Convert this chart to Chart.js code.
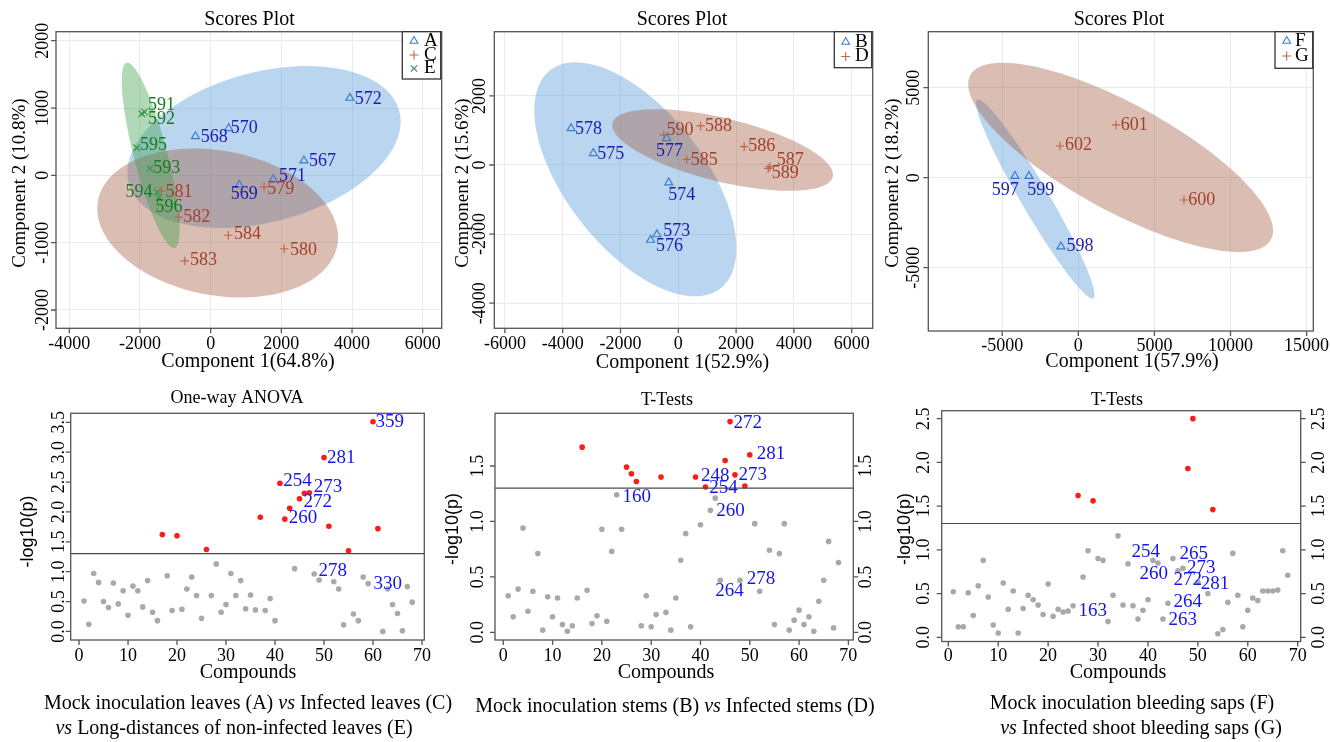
<!DOCTYPE html>
<html>
<head>
<meta charset="utf-8">
<script src="https://cdn.jsdelivr.net/npm/chart.js@4.4.1/dist/chart.umd.min.js"></script>
<style>
  body { margin: 0; background: #fff; width: 1330px; height: 742px; position: relative; overflow: hidden; }
  canvas { position: absolute; left: 0; top: 0; }
  .cap { position: absolute; width: 600px; text-align: center; font: 20px/24px 'Liberation Serif', 'Times New Roman', serif; color: #000; white-space: nowrap; }
</style>
</head>
<body>
<canvas id="p1" width="1330" height="742"></canvas>
<canvas id="p2" width="1330" height="742"></canvas>
<canvas id="p3" width="1330" height="742"></canvas>
<canvas id="p4" width="1330" height="742"></canvas>
<canvas id="p5" width="1330" height="742"></canvas>
<canvas id="p6" width="1330" height="742"></canvas>
<div class="cap" style="left:-52px;top:690px">Mock inoculation leaves (A) <i>vs</i> Infected leaves (C)</div>
<div class="cap" style="left:-66px;top:715px"><i>vs</i> Long-distances of non-infected leaves (E)</div>
<div class="cap" style="left:375px;top:693px">Mock inoculation stems (B) <i>vs</i> Infected stems (D)</div>
<div class="cap" style="left:832px;top:690px">Mock inoculation bleeding saps (F)</div>
<div class="cap" style="left:841px;top:715px"><i>vs</i> Infected shoot bleeding saps (G)</div>
<script>
// ---------- data: scores plots (component 1, component 2) ----------
const leafA_ids = ['572', '570', '568', '567', '571', '569'];
const leafA_x = [3940, 510, -430, 2640, 1770, 810];
const leafA_y = [1150, 700, 580, 220, -60, -140];
const leafA_lab = [[4075, 1124], [566, 693], [-283, 569], [2783, 213], [1934, -15], [566, -282]];

const leafC_ids = ['579', '581', '582', '584', '580', '583'];
const leafC_x = [1510, -1400, -900, 500, 2080, -730];
const leafC_y = [-170, -230, -620, -890, -1090, -1270];
const leafC_lab = [[1604, -208], [-1274, -248], [-774, -629], [660, -881], [2245, -1114], [-585, -1262]];

const leafE_ids = ['591', '592', '595', '593', '594', '596'];
const leafE_x = [-1870, -1950, -2090, -1720, -1510, -1460];
const leafE_y = [940, 915, 410, 100, -250, -330];
const leafE_lab = [[-1775, 1040], [-1775, 828], [-2000, 446], [-1623, 99], [-2406, -257], [-1557, -475]];

const stemB_ids = ['578', '575', '577', '574', '573', '576'];
const stemB_x = [-3710, -2940, -400, -330, -740, -960];
const stemB_y = [1060, 340, 770, -510, -2010, -2170];
const stemB_lab = [[-3576, 1033], [-2803, 319], [-773, 405], [-346, -869], [-519, -1931], [-773, -2346]];

const stemD_ids = ['590', '588', '586', '585', '587', '589', ''];
const stemD_x = [-500, 770, 2280, 290, 3170, 3110, -290];
const stemD_y = [870, 1130, 530, 160, -50, -100, -6080];
const stemD_lab = [[-404, 1014], [923, 1129], [2422, 550], [427, 145], [3403, 125], [3230, -241], null];

const sapF_ids = ['597', '599', '598'];
const sapF_x = [-4160, -3240, -1140];
const sapF_y = [90, 90, -3830];
const sapF_lab = [[-5694, -685], [-3351, -685], [-767, -3833]];

const sapG_ids = ['601', '602', '600'];
const sapG_x = [2480, -1200, 6940];
const sapG_y = [2930, 1760, -1240];
const sapG_lab = [[2781, 2926], [-876, 1778], [7227, -1241]];

// confidence ellipses: centre and two semi-axis vectors, in data units
const ellLeafA = { c: [1509, 421], a: [3827, 538], b: [549, -1076] };
const ellLeafC = { c: [198, -708], a: [3402, -156], b: [-182, 1095] };
const ellLeafE = { c: [-1698, 297], a: [679, -1376], b: [457, 62] };
const ellStemB = { c: [-1488, -415], a: [2947, -3156], b: [1881, 1230] };
const ellStemD = { c: [1534, 434], a: [3810, -777], b: [260, 891] };
const ellSapF = { c: [-2825, -1185], a: [3811, -5509], b: [795, 393] };
const ellSapG = { c: [2781, 1130], a: [9875, -4570], b: [1682, 2600] };

// ---------- data: -log10(p) per compound (index 1..68) ----------
const anovaLeaves = [0.51, 0.12, 0.97, 0.82, 0.50, 0.40, 0.81, 0.46, 0.68, 0.27,
  0.76, 0.68, 0.41, 0.85, 0.32, 0.18, 1.62, 0.93, 0.35, 1.60,
  0.37, 0.71, 0.91, 0.60, 0.22, 1.37, 0.60, 1.13, 0.32, 0.45,
  0.97, 0.60, 0.85, 0.38, 0.61, 0.36, 1.91, 0.35, 0.55, 0.18,
  2.48, 1.88, 2.06, 1.05, 2.22, 2.31, 2.32, 0.96, 0.86, 2.91,
  1.76, 0.83, 0.71, 0.11, 1.35, 0.29, 0.18, 0.91, 0.80, 3.51,
  1.72, 0.00, 0.71, 0.45, 0.30, 0.01, 0.75, 0.49];
const ttestStems = [0.33, 0.14, 0.39, 0.94, 0.19, 0.37, 0.71, 0.02, 0.32, 0.14,
  0.31, 0.07, 0.01, 0.06, 0.31, 1.67, 0.38, 0.08, 0.15, 0.93,
  0.10, 0.73, 1.24, 0.93, 1.49, 1.43, 1.36, 0.06, 0.33, 0.05,
  0.16, 1.40, 0.18, 0.02, 0.31, 0.65, 0.89, 0.05, 1.40, 0.97,
  1.31, 1.10, 1.21, 0.47, 1.55, 1.90, 1.42, 0.47, 1.32, 1.60,
  0.98, 0.37, null, 0.74, 0.07, 0.71, 0.98, 0.02, 0.11, 0.20,
  0.07, 0.14, 0.01, 0.28, 0.47, 0.82, 0.04, 0.63];
const ttestSaps = [0.52, 0.12, 0.12, 0.51, 0.25, 0.59, 0.88, 0.46, 0.14, 0.05,
  0.62, 0.32, 0.53, 0.05, 0.33, 0.48, 0.43, 0.37, 0.26, 0.61,
  0.24, 0.32, 0.29, 0.30, 0.36, 1.62, 0.69, 0.99, 1.56, 0.90,
  0.88, 0.18, 0.48, 1.16, 0.37, 0.84, 0.36, 0.21, 0.31, 0.43,
  0.88, 0.85, 0.21, 0.39, 0.90, 0.76, 0.79, 1.93, 2.50, 0.63,
  null, 0.50, 1.46, 0.04, 0.09, 0.40, 0.96, 0.48, 0.12, 0.31,
  0.45, 0.42, 0.53, 0.53, 0.53, 0.54, 0.99, 0.71];
const pThreshold = 1.301; // -log10(0.05)

const anovaLabText = ['359', '281', '254', '273', '272', '260', '278', '330'];
const anovaLabPos = [[60.5, 3.50], [50.6, 2.91], [41.7, 2.51], [47.9, 2.41], [45.8, 2.17], [42.8, 1.90], [48.9, 1.01], [60.1, 0.80]];
const stemLabText = ['272', '281', '248', '273', '254', '160', '260', '278', '264'];
const stemLabPos = [[46.7, 1.89], [51.4, 1.61], [40.1, 1.41], [47.7, 1.42], [41.8, 1.30], [24.2, 1.22], [43.2, 1.09], [49.4, 0.48], [43.0, 0.37]];
const sapLabText = ['254', '265', '273', '260', '272', '281', '264', '263', '163'];
const sapLabPos = [[36.7, 0.97], [46.3, 0.95], [47.8, 0.79], [38.3, 0.72], [45.1, 0.66], [50.6, 0.61], [45.1, 0.40], [44.1, 0.20], [26.1, 0.30]];

// ---------- tick labels ----------
const ticksP1x = [-4000, -2000, 0, 2000, 4000, 6000];
const ticksP1y = [-2000, -1000, 0, 1000, 2000];
const ticksP2x = [-6000, -4000, -2000, 0, 2000, 4000, 6000];
const ticksP2y = [-4000, -2000, 0, 2000];
const ticksP3x = [-5000, 0, 5000, 10000, 15000];
const ticksP3y = [-5000, 0, 5000];
const ticksCompounds = [0, 10, 20, 30, 40, 50, 60, 70];
const ticksAnova = [0, 0.5, 1, 1.5, 2, 2.5, 3, 3.5];
const ticksStems = [0, 0.5, 1, 1.5];
const ticksSaps = [0, 0.5, 1, 1.5, 2, 2.5];

// ---------- styles ----------
const W = 1330, H = 742;
const serif = "'Liberation Serif','Times New Roman',serif";
const sans = "'Liberation Sans',Arial,sans-serif";
const blueMark = '#3b7fd0', blueText = '#1c1cb0', blueFill = 'rgba(80,150,215,0.40)';
const redMark = '#c0654a', redText = '#a3402a', redFill = 'rgba(160,85,55,0.38)';
const greenMark = '#2f9a45', greenText = '#1a7a22', greenFill = 'rgba(60,160,75,0.40)';

const pts = (xs, ys) => xs.map((x, i) => ({ x: x, y: ys[i] }));
const idxPts = (ys, keep) => ys.map((y, i) => ({ x: i + 1, y: y })).filter(p => p.y !== null && keep(p.y));

function rotText(ctx, text, x, y) {
  ctx.save();
  ctx.translate(x, y);
  ctx.rotate(-Math.PI / 2);
  ctx.fillText(text, 0, 0);
  ctx.restore();
}

function makeDecor(cfg) {
  return {
    id: 'decor',
    beforeDatasetsDraw(chart) {
      const { ctx, chartArea: a, scales: { x, y } } = chart;
      if (!cfg.ellipses) return;
      ctx.save();
      ctx.beginPath();
      ctx.rect(a.left, a.top, a.right - a.left, a.bottom - a.top);
      ctx.clip();
      cfg.ellipses.forEach(e => {
        ctx.beginPath();
        for (let i = 0; i <= 120; i++) {
          const t = i / 120 * Math.PI * 2;
          const px = x.getPixelForValue(e.c[0] + e.a[0] * Math.cos(t) + e.b[0] * Math.sin(t));
          const py = y.getPixelForValue(e.c[1] + e.a[1] * Math.cos(t) + e.b[1] * Math.sin(t));
          if (i === 0) ctx.moveTo(px, py); else ctx.lineTo(px, py);
        }
        ctx.closePath();
        ctx.fillStyle = e.fill;
        ctx.fill();
      });
      ctx.restore();
    },
    afterDraw(chart) {
      const { ctx, chartArea: a, scales: { x, y } } = chart;
      ctx.save();

      if (cfg.threshold !== undefined) {
        const py = y.getPixelForValue(cfg.threshold);
        ctx.strokeStyle = '#4a4a4a';
        ctx.lineWidth = 1.2;
        ctx.beginPath();
        ctx.moveTo(a.left, py);
        ctx.lineTo(a.right, py);
        ctx.stroke();
      }

      // point labels
      ctx.textAlign = 'left';
      ctx.textBaseline = 'middle';
      cfg.labels.forEach(g => {
        ctx.fillStyle = g.color;
        ctx.font = g.size + 'px ' + serif;
        g.text.forEach((t, i) => {
          if (!t || !g.pos[i]) return;
          ctx.fillText(t, x.getPixelForValue(g.pos[i][0]), y.getPixelForValue(g.pos[i][1]));
        });
      });

      // box and tick marks
      ctx.strokeStyle = '#555';
      ctx.lineWidth = 1.3;
      ctx.strokeRect(a.left, a.top, a.right - a.left, a.bottom - a.top);
      ctx.beginPath();
      cfg.xTicks.forEach(v => {
        const px = x.getPixelForValue(v);
        ctx.moveTo(px, a.bottom);
        ctx.lineTo(px, a.bottom + 5);
      });
      cfg.yTicks.forEach(v => {
        const py = y.getPixelForValue(v);
        ctx.moveTo(a.left, py);
        ctx.lineTo(a.left - 5, py);
        if (cfg.rightLabelX) {
          ctx.moveTo(a.right, py);
          ctx.lineTo(a.right + 5, py);
        }
      });
      ctx.stroke();

      // tick labels
      ctx.fillStyle = '#000';
      ctx.font = '18px ' + serif;
      ctx.textAlign = 'center';
      ctx.textBaseline = 'middle';
      const fmt = v => cfg.decimals ? v.toFixed(cfg.decimals) : String(v);
      cfg.xTicks.forEach(v => ctx.fillText(fmt(v).replace('.0', ''), x.getPixelForValue(v), cfg.xLabelY));
      cfg.yTicks.forEach(v => {
        rotText(ctx, fmt(v), cfg.yLabelX, y.getPixelForValue(v));
        if (cfg.rightLabelX) rotText(ctx, fmt(v), cfg.rightLabelX, y.getPixelForValue(v));
      });

      // titles
      cfg.texts.forEach(t => {
        ctx.font = t.font;
        if (t.rot) rotText(ctx, t.text, t.x, t.y);
        else ctx.fillText(t.text, t.x, t.y);
      });

      // legend
      if (cfg.legend) {
        const L = cfg.legend;
        ctx.fillStyle = '#fff';
        ctx.fillRect(L.box[0], L.box[1], L.box[2] - L.box[0], L.box[3] - L.box[1]);
        ctx.strokeStyle = '#333';
        ctx.lineWidth = 1.3;
        ctx.strokeRect(L.box[0], L.box[1], L.box[2] - L.box[0], L.box[3] - L.box[1]);
        L.items.forEach(it => {
          ctx.strokeStyle = it.color;
          ctx.fillStyle = 'rgba(0,0,0,0)';
          ctx.lineWidth = 1.1;
          Chart.helpers.drawPoint(ctx, { pointStyle: it.style, radius: 4.5, borderWidth: 1.1, rotation: 0 }, L.symX, it.y);
          ctx.fillStyle = '#000';
          ctx.font = '19px ' + serif;
          ctx.textAlign = 'left';
          ctx.fillText(it.label, L.textX, it.y);
        });
      }
      ctx.restore();
    }
  };
}

function scaleOpts(min, max, ticks, grid) {
  return {
    type: 'linear', min: min, max: max,
    ticks: { display: false },
    grid: { display: grid, color: '#ebebeb', lineWidth: 1, drawTicks: false },
    border: { display: false },
    afterBuildTicks: axis => { axis.ticks = ticks.map(v => ({ value: v })); }
  };
}

function makeChart(id, cfg, datasets) {
  return new Chart(document.getElementById(id), {
    type: 'scatter',
    data: { datasets: datasets },
    options: {
      responsive: false,
      animation: false,
      events: [],
      layout: { autoPadding: false, padding: { left: cfg.area[0], top: cfg.area[1], right: W - cfg.area[2], bottom: H - cfg.area[3] } },
      plugins: { legend: { display: false }, tooltip: { enabled: false } },
      scales: {
        x: scaleOpts(cfg.xRange[0], cfg.xRange[1], cfg.xTicks, cfg.grid),
        y: scaleOpts(cfg.yRange[0], cfg.yRange[1], cfg.yTicks, cfg.grid)
      }
    },
    plugins: [makeDecor(cfg)]
  });
}

function scoreSet(xs, ys, style, color, r) {
  return { data: pts(xs, ys), pointStyle: style, pointRadius: r, borderColor: color,
    backgroundColor: 'rgba(0,0,0,0)', borderWidth: 1.2, clip: false };
}

function dotSets(ys) {
  return [
    { data: idxPts(ys, v => v <= pThreshold), pointRadius: 2.8, backgroundColor: '#a9a9a9', borderWidth: 0 },
    { data: idxPts(ys, v => v > pThreshold), pointRadius: 2.8, backgroundColor: '#ff1a1a', borderWidth: 0 }
  ];
}

const topTitle = '20px ' + serif, axisFont = '20px ' + serif, yAxisFont = '19px ' + serif;

// ---------- panel 1: leaves A / C / E ----------
makeChart('p1', {
  area: [56, 31.7, 441.7, 328.3], xRange: [-4376, 6538], yRange: [-2272, 2134],
  xTicks: ticksP1x, yTicks: ticksP1y, grid: true, xLabelY: 344.5, yLabelX: 43.5,
  ellipses: [Object.assign({ fill: blueFill }, ellLeafA), Object.assign({ fill: redFill }, ellLeafC), Object.assign({ fill: greenFill }, ellLeafE)],
  labels: [
    { text: leafA_ids, pos: leafA_lab, color: blueText, size: 18 },
    { text: leafC_ids, pos: leafC_lab, color: redText, size: 18 },
    { text: leafE_ids, pos: leafE_lab, color: greenText, size: 18 }
  ],
  texts: [
    { text: 'Scores Plot', x: 249.5, y: 20, font: topTitle },
    { text: 'Component 1(64.8%)', x: 248, y: 362, font: axisFont },
    { text: 'Component 2 (10.8%)', x: 20, y: 183, font: yAxisFont, rot: true }
  ],
  legend: { box: [402.3, 31.7, 440.7, 79], symX: 414, textX: 424,
    items: [{ style: 'triangle', color: blueMark, label: 'A', y: 41 }, { style: 'cross', color: redMark, label: 'C', y: 55 }, { style: 'crossRot', color: greenMark, label: 'E', y: 68.5 }] }
}, [
  scoreSet(leafA_x, leafA_y, 'triangle', blueMark, 4.6),
  scoreSet(leafC_x, leafC_y, 'cross', redMark, 4.2),
  scoreSet(leafE_x, leafE_y, 'crossRot', greenMark, 4.6)
]);

// ---------- panel 2: stems B / D ----------
makeChart('p2', {
  area: [494.3, 31.7, 872.7, 328.3], xRange: [-6367, 6727], yRange: [-4727, 3858],
  xTicks: ticksP2x, yTicks: ticksP2y, grid: true, xLabelY: 344.5, yLabelX: 480.5,
  ellipses: [Object.assign({ fill: blueFill }, ellStemB), Object.assign({ fill: redFill }, ellStemD)],
  labels: [
    { text: stemB_ids, pos: stemB_lab, color: blueText, size: 18 },
    { text: stemD_ids, pos: stemD_lab, color: redText, size: 18 }
  ],
  texts: [
    { text: 'Scores Plot', x: 682, y: 20, font: topTitle },
    { text: 'Component 1(52.9%)', x: 682.5, y: 363, font: axisFont },
    { text: 'Component 2 (15.6%)', x: 463, y: 183, font: yAxisFont, rot: true }
  ],
  legend: { box: [834.3, 31.7, 871.7, 67.7], symX: 845.7, textX: 855,
    items: [{ style: 'triangle', color: blueMark, label: 'B', y: 42 }, { style: 'cross', color: redMark, label: 'D', y: 56.5 }] }
}, [
  scoreSet(stemB_x, stemB_y, 'triangle', blueMark, 4.6),
  scoreSet(stemD_x, stemD_y, 'cross', redMark, 4.2)
]);

// ---------- panel 3: bleeding saps F / G ----------
makeChart('p3', {
  area: [928.3, 31.7, 1313.3, 331], xRange: [-9855, 15440], yRange: [-8517, 8111],
  xTicks: ticksP3x, yTicks: ticksP3y, grid: true, xLabelY: 346, yLabelX: 914,
  ellipses: [Object.assign({ fill: blueFill }, ellSapF), Object.assign({ fill: redFill }, ellSapG)],
  labels: [
    { text: sapF_ids, pos: sapF_lab, color: blueText, size: 18 },
    { text: sapG_ids, pos: sapG_lab, color: redText, size: 18 }
  ],
  texts: [
    { text: 'Scores Plot', x: 1119, y: 20, font: topTitle },
    { text: 'Component 1(57.9%)', x: 1132, y: 362, font: axisFont },
    { text: 'Component 2 (18.2%)', x: 893, y: 183, font: yAxisFont, rot: true }
  ],
  legend: { box: [1275, 31.7, 1312.7, 68.3], symX: 1286.7, textX: 1295,
    items: [{ style: 'triangle', color: blueMark, label: 'F', y: 41 }, { style: 'cross', color: redMark, label: 'G', y: 56 }] }
}, [
  scoreSet(sapF_x, sapF_y, 'triangle', blueMark, 4.6),
  scoreSet(sapG_x, sapG_y, 'cross', redMark, 4.2)
]);

// ---------- bottom row: significance plots ----------
const botTitle = '18px ' + serif, pFont = '18px ' + sans, compFont = '20px ' + serif, labBlue = '#1414f0';

makeChart('p4', {
  area: [70.7, 413.3, 424.3, 640], xRange: [-1.7, 70.47], yRange: [-0.144, 3.651],
  xTicks: ticksCompounds, yTicks: ticksAnova, grid: false, decimals: 1, xLabelY: 656, yLabelX: 59.5,
  threshold: pThreshold,
  labels: [{ text: anovaLabText, pos: anovaLabPos, color: labBlue, size: 19 }],
  texts: [
    { text: 'One-way ANOVA', x: 237, y: 398.5, font: botTitle },
    { text: 'Compounds', x: 248, y: 673, font: compFont },
    { text: '-log10(p)', x: 28.5, y: 531.5, font: pFont, rot: true }
  ]
}, dotSets(anovaLeaves));

makeChart('p5', {
  area: [495, 413.3, 853.3, 640], xRange: [-1.68, 71.0], yRange: [-0.069, 1.975],
  xTicks: ticksCompounds, yTicks: ticksStems, grid: false, decimals: 1, xLabelY: 656, yLabelX: 478.5, rightLabelX: 866,
  threshold: pThreshold,
  labels: [{ text: stemLabText, pos: stemLabPos, color: labBlue, size: 19 }],
  texts: [
    { text: 'T-Tests', x: 667, y: 400.5, font: botTitle },
    { text: 'Compounds', x: 666, y: 673, font: compFont },
    { text: '-log10(p)', x: 453.5, y: 529, font: pFont, rot: true }
  ]
}, dotSets(ttestStems));

makeChart('p6', {
  area: [941.7, 410.7, 1300.7, 641.5], xRange: [-1.32, 70.6], yRange: [-0.048, 2.591],
  xTicks: ticksCompounds, yTicks: ticksSaps, grid: false, decimals: 1, xLabelY: 656, yLabelX: 924, rightLabelX: 1319,
  threshold: pThreshold,
  labels: [{ text: sapLabText, pos: sapLabPos, color: labBlue, size: 19 }],
  texts: [
    { text: 'T-Tests', x: 1117, y: 400.5, font: botTitle },
    { text: 'Compounds', x: 1118, y: 673, font: compFont },
    { text: '-log10(p)', x: 905, y: 529, font: pFont, rot: true }
  ]
}, dotSets(ttestSaps));
</script>
</body>
</html>
